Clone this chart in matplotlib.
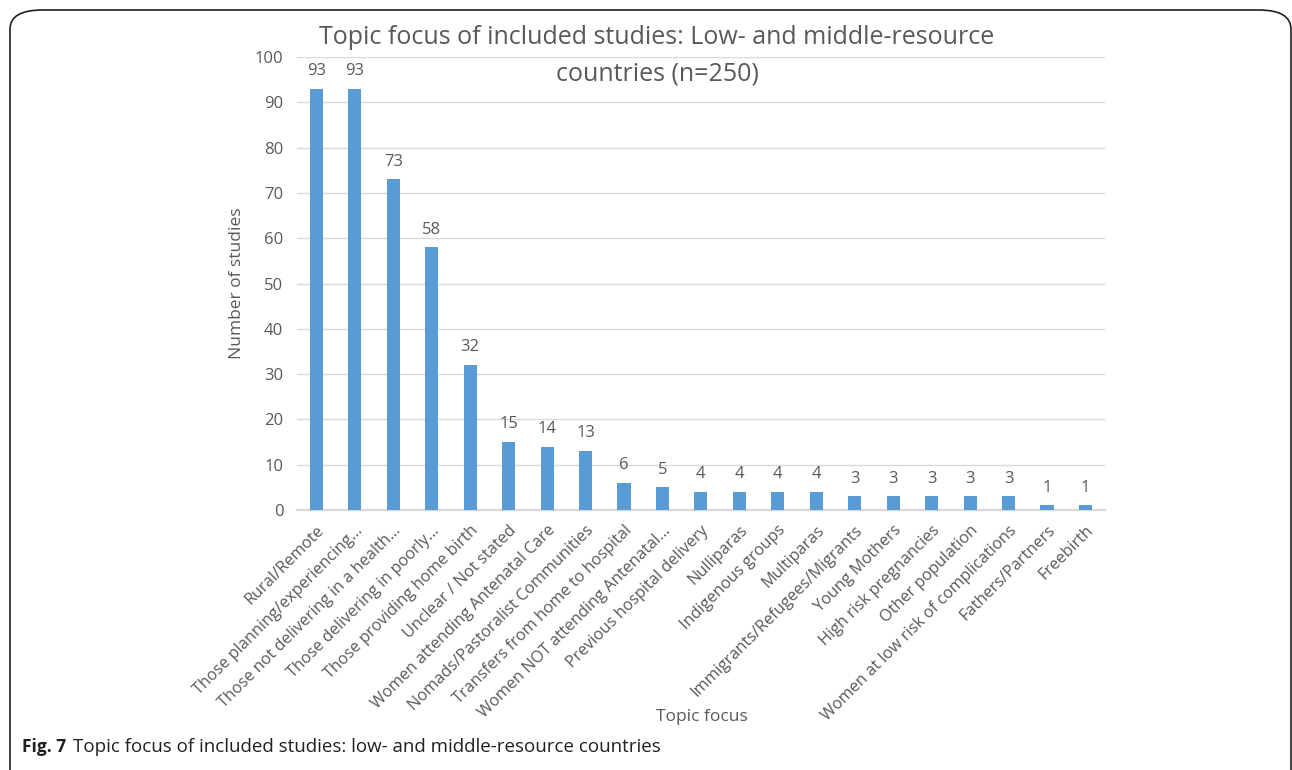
import matplotlib.pyplot as plt
from matplotlib.patches import FancyBboxPatch

# 数据
categories = [
    'Rural/Remote',
    'Those planning/experiencing…',
    'Those not delivering in a health…',
    'Those delivering in poorly…',
    'Those providing home birth',
    'Unclear / Not stated',
    'Women attending Antenatal Care',
    'Nomads/Pastoralist Communities',
    'Transfers from home to hospital',
    'Women NOT attending Antenatal…',
    'Previous hospital delivery',
    'Nulliparas',
    'Indigenous groups',
    'Multiparas',
    'Immigrants/Refugees/Migrants',
    'Young Mothers',
    'High risk pregnancies',
    'Other population',
    'Women at low risk of complications',
    'Fathers/Partners',
    'Freebirth',
]
values = [93, 93, 73, 58, 32, 15, 14, 13, 6, 5, 4, 4, 4, 4, 3, 3, 3, 3, 3, 1, 1]
yticks = [0, 10, 20, 30, 40, 50, 60, 70, 80, 90, 100]

plt.rcParams['font.family'] = ['Open Sans', 'DejaVu Sans']
grey = '#595959'

fig = plt.figure(figsize=(12.92, 7.7), dpi=100)
ax = fig.add_axes([0.230, 0.3377, 0.625, 0.588])

x = list(range(len(categories)))
ax.bar(x, values, width=0.34, color='#5B9BD5', zorder=3)

# 数据标签
for xi, v in zip(x, values):
    ax.annotate(str(v), (xi, v), xytext=(0, 7), textcoords='offset points',
                ha='center', va='bottom', fontsize=12, color=grey)

ax.set_xlim(-0.5, len(categories) - 0.5)
ax.set_ylim(0, 100)
ax.set_yticks(yticks)
ax.set_yticklabels([str(t) for t in yticks], fontsize=12, color=grey)
ax.set_xticks(x)
ax.set_xticklabels(categories, rotation=45, ha='right', rotation_mode='anchor',
                   fontsize=11.7, color=grey)
ax.tick_params(axis='y', length=0, pad=10)
ax.tick_params(axis='x', length=0, pad=9)
ax.grid(axis='y', color='#D9D9D9', linewidth=1, zorder=0)
for s in ['top', 'right', 'left']:
    ax.spines[s].set_visible(False)
ax.spines['bottom'].set_color('#D9D9D9')
ax.spines['bottom'].set_linewidth(1.6)

ax.set_ylabel('Number of studies', fontsize=12.5, color=grey, labelpad=7)
fig.text(702 / 1292, 1 - 717 / 770, 'Topic focus', ha='center', va='center',
         fontsize=12.5, color=grey)

# 标题（两行）
fig.text(657 / 1292, 1 - 38 / 770,
         'Topic focus of included studies: Low- and middle-resource',
         ha='center', va='center', fontsize=18, color=grey)
fig.text(657 / 1292, 1 - 74 / 770, 'countries (n=250)',
         ha='center', va='center', fontsize=18, color=grey)

# 图注
fig.text(22 / 1292, 1 - 747 / 770, 'Fig. 7', ha='left', va='center',
         fontsize=12.5, fontweight='bold', color='#231F20')
fig.text(73 / 1292, 1 - 747 / 770,
         'Topic focus of included studies: low- and middle-resource countries',
         ha='left', va='center', fontsize=13.5, color='#231F20')

# 圆角边框
box = FancyBboxPatch((10 / 1292, -0.05), 1281 / 1292, 1.05 - 10 / 770,
                     boxstyle='round,pad=0,rounding_size=0.025',
                     transform=fig.transFigure, fill=False,
                     edgecolor='#231F20', linewidth=1.2, clip_on=False)
fig.patches.append(box)

fig.savefig('out.png', dpi=100)
